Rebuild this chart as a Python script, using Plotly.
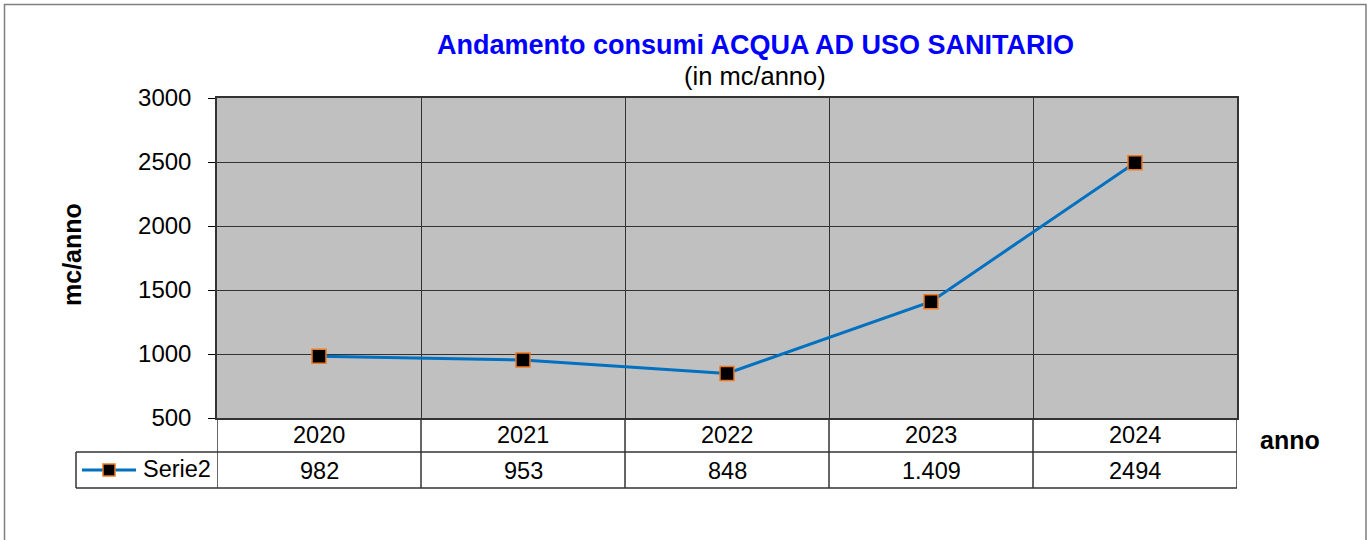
import plotly.graph_objects as go

years = ["2020", "2021", "2022", "2023", "2024"]
values = [982, 953, 848, 1409, 2494]
value_labels = ["982", "953", "848", "1.409", "2494"]
series_name = "Serie2"
y_ticks = [500, 1000, 1500, 2000, 2500, 3000]

W, H = 1368, 540
L, R, T, B = 217, 1237, 98, 418
pw, ph = R - L, B - T

def px(xpix):
    return (xpix - L) / pw

def py(ypix):
    return (B - ypix) / ph

FONT = "Liberation Sans, Arial, sans-serif"
LINE_BLUE = "#0070C0"
GRID = "#333333"

fig = go.Figure()
fig.add_trace(go.Scatter(
    x=years, y=values, mode="lines+markers", name=series_name,
    line=dict(color=LINE_BLUE, width=3),
    marker=dict(symbol="square", size=14, color="black",
                line=dict(color="#F07A20", width=1.5)),
    showlegend=False,
))

shapes = []
# outer frame
shapes.append(dict(type="rect", xref="paper", yref="paper",
                   x0=px(4.5), x1=px(1366), y0=py(560), y1=py(4.5),
                   line=dict(color="#7f7f7f", width=1.5), layer="below"))
# table horizontal lines
for yy in [452, 488]:
    shapes.append(dict(type="line", xref="paper", yref="paper",
                       x0=px(76), x1=px(R), y0=py(yy), y1=py(yy),
                       line=dict(color=GRID, width=1.5)))
# table vertical lines at category boundaries
for i in range(len(years) + 1):
    shapes.append(dict(type="line", xref="x", yref="paper",
                       x0=i - 0.5, x1=i - 0.5, y0=py(488), y1=py(B),
                       line=dict(color=GRID, width=1.5)))
shapes.append(dict(type="line", xref="paper", yref="paper",
                   x0=px(76), x1=px(76), y0=py(488), y1=py(452),
                   line=dict(color=GRID, width=1.5)))
# legend symbol
shapes.append(dict(type="line", xref="paper", yref="paper",
                   x0=px(82), x1=px(136), y0=py(470), y1=py(470),
                   line=dict(color=LINE_BLUE, width=3)))
shapes.append(dict(type="rect", xref="paper", yref="paper",
                   x0=px(103), x1=px(115), y0=py(476), y1=py(464),
                   fillcolor="black", line=dict(color="#F07A20", width=1.5)))

def ann(x, y, text, size, color="black", xref="paper", xanchor="center", angle=0):
    return dict(x=x, xref=xref, y=y, yref="paper", text=text, showarrow=False,
                xanchor=xanchor, yanchor="middle", textangle=angle,
                font=dict(family=FONT, size=size, color=color))

annotations = []
for i, (yr, lab) in enumerate(zip(years, value_labels)):
    annotations.append(ann(i, py(435), yr, 23.5, xref="x"))
    annotations.append(ann(i, py(471), lab, 23.5, xref="x"))
annotations.append(ann(px(141), py(469), series_name, 23.5, xanchor="left"))
annotations.append(ann(px(1290), py(440), "<b>anno</b>", 25))
annotations.append(ann(px(72), py(255), "<b>mc/anno</b>", 25, angle=-90))
annotations.append(ann(px(755), py(45), "<b>Andamento consumi ACQUA AD USO SANITARIO</b>",
                       27, color="#0000FF"))
annotations.append(ann(px(755), py(76), "(in mc/anno)", 25.5))

fig.update_layout(
    width=W, height=H,
    margin=dict(l=L, r=W - R, t=T, b=H - B, pad=0),
    paper_bgcolor="white", plot_bgcolor="#C0C0C0",
    shapes=shapes, annotations=annotations,
    xaxis=dict(type="category", range=[-0.5, len(years) - 0.5], tickson="boundaries",
               showgrid=True, gridcolor=GRID, gridwidth=1.3, showticklabels=False,
               ticks="", showline=True, linecolor=GRID, linewidth=1.5, mirror=True,
               zeroline=False),
    yaxis=dict(range=[500, 3000], tickvals=y_ticks, showgrid=True, gridcolor=GRID,
               gridwidth=1.3, ticks="outside", ticklen=7, tickcolor="black",
               showline=True, linecolor=GRID, linewidth=1.5, mirror=True,
               tickfont=dict(family=FONT, size=24, color="black"),
               ticklabelstandoff=12, zeroline=False),
)

fig.write_html("out.html", config={"displayModeBar": False},
               post_script="document.body.style.margin='0';")
